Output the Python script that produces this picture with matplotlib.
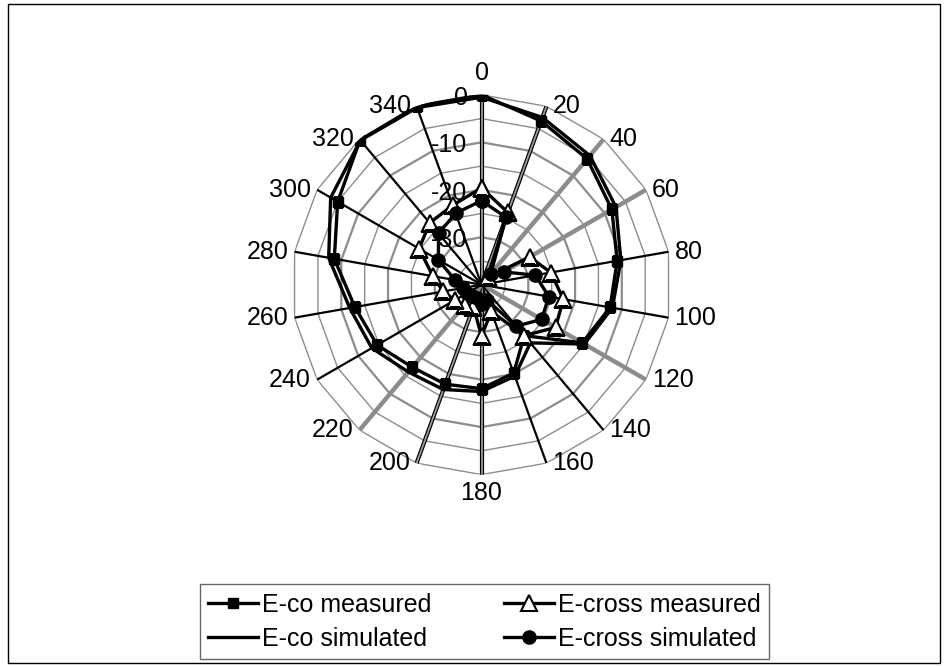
import numpy as np
import matplotlib
matplotlib.use("Agg")
import matplotlib.pyplot as plt
from matplotlib.patches import Rectangle
from matplotlib.transforms import offset_copy

plt.rcParams['font.family'] = ['Liberation Sans', 'DejaVu Sans']

angles = [0, 20, 40, 60, 80, 100, 120, 140, 160, 180, 200, 220, 240, 260, 280, 300, 320, 340]
eco_meas = [0, -3.3, -5.4, -8.3, -11, -12.5, -15.5, -26, -20.2, -18.1, -17.7, -17.3, -14.6, -12.9, -8.5, -5, -0.2, 0]
eco_sim = [-0.5, -2.5, -4.5, -7.3, -10.2, -12, -15, -24, -19.5, -17.5, -16.5, -16, -13.3, -11.8, -7.3, -3.3, -0.3, -0.3]
ecross_meas = [-19.6, -23.8, -38, -28.3, -25.2, -22.5, -22, -26, -34, -29.2, -35, -34.5, -33.5, -31.8, -29.6, -24.8, -23, -22.2]
ecross_sim = [-22.3, -24.9, -37, -34.6, -28.5, -25.6, -25.4, -28.6, -36.5, -36, -37, -37, -36.5, -36, -34.3, -29.5, -25.9, -24]
rings = [-35, -30, -25, -20, -15, -10, -5, 0]
ring_labels = [0, -10, -20, -30]

FS = 18

fig = plt.figure(figsize=(9.47, 6.66), dpi=100)
ax = fig.add_axes([0.308, 0.287, 0.401, 0.571], projection='polar')
ax.set_theta_zero_location('N')
ax.set_theta_direction(-1)
ax.set_ylim(-40, 0)
ax.grid(False)
ax.spines['polar'].set_visible(False)
ax.set_yticks([])
ax.set_xticks([])

th = np.deg2rad(angles)
th_closed = np.append(th, th[0])

def closed(v):
    return np.append(v, v[0])

# polygon rings
for r in rings:
    lw = 1.0 if r in (-35, -25, -15, -5, 0) else 1.6
    ax.plot(th_closed, [r] * len(th_closed), color='#8c8c8c', lw=lw, zorder=1)

# spokes, mimicking the mixed rendering
gray_thick = [40, 60, 120, 220]
double_gray = [0, 20, 180, 200]
for a in angles:
    t = np.deg2rad(a)
    if a in gray_thick:
        ax.plot([t, t], [-40, 0], color='#8c8c8c', lw=3.2, zorder=2)
    elif a in double_gray:
        ax.plot([t, t], [-40, 0], color='black', lw=3.0, zorder=2)
        ax.plot([t, t], [-40, 0], color='#9a9a9a', lw=1.3, zorder=2)
    else:
        ax.plot([t, t], [-40, 0], color='black', lw=1.6, zorder=2)

# category labels placed beside the spoke ends (Excel style)
for a in angles:
    t = np.deg2rad(a)
    if a == 0:
        tr = offset_copy(ax.transData, fig=fig, x=0, y=10, units='dots')
        ax.text(t, 0, str(a), transform=tr, ha='center', va='bottom', fontsize=FS)
    elif a == 180:
        tr = offset_copy(ax.transData, fig=fig, x=0, y=-6, units='dots')
        ax.text(t, 0, str(a), transform=tr, ha='center', va='top', fontsize=FS)
    elif a < 180:
        tr = offset_copy(ax.transData, fig=fig, x=6, y=0, units='dots')
        ax.text(t, 0, str(a), transform=tr, ha='left', va='center', fontsize=FS)
    else:
        tr = offset_copy(ax.transData, fig=fig, x=-6, y=0, units='dots')
        ax.text(t, 0, str(a), transform=tr, ha='right', va='center', fontsize=FS)

# radial value labels
tr = offset_copy(ax.transData, fig=fig, x=-14, y=-3, units='dots')
for v in ring_labels:
    ax.text(0, v, str(v), transform=tr, ha='right', va='center', fontsize=FS, zorder=3)

l1, = ax.plot(th_closed, closed(eco_meas), color='black', lw=2.4, marker='s', ms=7, zorder=5,
              label='E-co measured')
l2, = ax.plot(th_closed, closed(eco_sim), color='black', lw=2.4, zorder=4, label='E-co simulated')
l3, = ax.plot(th_closed, closed(ecross_meas), color='black', lw=2.4, marker='^', ms=11, mfc='white',
              mec='black', mew=1.5, zorder=5, label='E-cross measured')
l4, = ax.plot(th_closed, closed(ecross_sim), color='black', lw=2.4, marker='o', ms=9.5, zorder=5,
              label='E-cross simulated')

leg = fig.legend(handles=[l1, l2, l3, l4], loc='center', bbox_to_anchor=(0.5116, 0.0668), ncol=2,
                 fontsize=FS, frameon=True, fancybox=False, edgecolor='#404040',
                 handlelength=2.0, columnspacing=2.9, labelspacing=0.4, handletextpad=0.15,
                 borderpad=0.35, borderaxespad=0)
leg.get_frame().set_linewidth(1.0)

fig.patches.append(Rectangle((0.0084, 0.0045), 0.984, 0.9895, transform=fig.transFigure,
                             fill=False, edgecolor='black', lw=1.0))

fig.savefig('out.png', dpi=100)
